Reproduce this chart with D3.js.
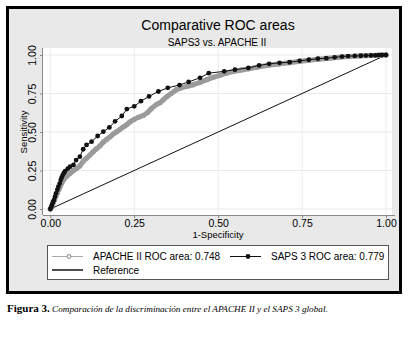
<!DOCTYPE html>
<html>
<head>
<meta charset="utf-8">
<script src="https://cdn.jsdelivr.net/npm/d3@7"></script>
<style>
	body { margin: 0; background: #fff; }
	svg { display: block; }
</style>
</head>
<body>
<svg id="chart" width="408" height="338"></svg>
<script>

// values
let saps_fpr = [0, 0.003, 0.005, 0.008, 0.011, 0.014, 0.017, 0.021, 0.024, 0.028, 0.031, 0.034, 0.037, 0.04, 0.044, 0.052, 0.059, 0.069, 0.077, 0.088, 0.098, 0.108, 0.123, 0.141, 0.158, 0.176, 0.193, 0.213, 0.228, 0.25, 0.27, 0.294, 0.322, 0.35, 0.385, 0.412, 0.446, 0.472, 0.518, 0.55, 0.59, 0.622, 0.652, 0.683, 0.713, 0.743, 0.77, 0.797, 0.822, 0.847, 0.869, 0.887, 0.907, 0.925, 0.94, 0.955, 0.968, 0.978, 0.988, 1];
let saps_tpr = [0, 0.012, 0.028, 0.045, 0.058, 0.08, 0.102, 0.125, 0.145, 0.165, 0.188, 0.205, 0.22, 0.232, 0.245, 0.262, 0.275, 0.286, 0.318, 0.34, 0.388, 0.416, 0.437, 0.474, 0.502, 0.53, 0.569, 0.604, 0.649, 0.667, 0.7, 0.731, 0.763, 0.787, 0.805, 0.825, 0.852, 0.882, 0.894, 0.905, 0.916, 0.932, 0.943, 0.949, 0.953, 0.962, 0.969, 0.976, 0.979, 0.985, 0.99, 0.993, 0.994, 0.995, 0.996, 0.997, 0.998, 0.999, 1, 1];

let apache_fpr = [0, 0.003, 0.006, 0.009, 0.012, 0.016, 0.02, 0.025, 0.029, 0.034, 0.04, 0.044, 0.05, 0.059, 0.068, 0.079, 0.088, 0.098, 0.108, 0.118, 0.128, 0.138, 0.148, 0.158, 0.168, 0.178, 0.188, 0.198, 0.208, 0.217, 0.228, 0.237, 0.25, 0.262, 0.277, 0.29, 0.3, 0.317, 0.327, 0.337, 0.347, 0.36, 0.376, 0.39, 0.41, 0.426, 0.446, 0.466, 0.485, 0.505, 0.525, 0.545, 0.57, 0.59, 0.615, 0.645, 0.68, 0.71, 0.74, 0.77, 0.8, 0.83, 0.86, 0.89, 0.92, 0.95, 0.98, 1];
let apache_tpr = [0, 0.012, 0.025, 0.04, 0.058, 0.08, 0.1, 0.125, 0.145, 0.168, 0.19, 0.205, 0.215, 0.232, 0.248, 0.264, 0.28, 0.31, 0.33, 0.35, 0.372, 0.392, 0.41, 0.435, 0.452, 0.469, 0.488, 0.502, 0.518, 0.532, 0.548, 0.565, 0.582, 0.595, 0.607, 0.627, 0.65, 0.68, 0.69, 0.71, 0.729, 0.75, 0.775, 0.787, 0.798, 0.807, 0.822, 0.84, 0.855, 0.868, 0.882, 0.893, 0.903, 0.91, 0.92, 0.932, 0.942, 0.95, 0.958, 0.966, 0.973, 0.979, 0.985, 0.99, 0.994, 0.997, 0.999, 1];

let reference_line = [0, 1];
let tick_values = [0, 0.25, 0.5, 0.75, 1];

let title = 'Comparative ROC areas';
let subtitle = 'SAPS3 vs. APACHE II';
let x_title = '1-Specificity';
let y_title = 'Sensitivity';
let legend_labels = ['APACHE II ROC area: 0.748', 'SAPS 3 ROC area: 0.779', 'Reference'];

let svg = d3.select('#chart');
let font = '"Liberation Sans", Arial, sans-serif';

// outer frame and graph region
svg.append('rect')
	.attr('x', 7.5).attr('y', 7.5).attr('width', 393).attr('height', 285)
	.attr('fill', '#e9e9e9')
	.attr('stroke', '#000').attr('stroke-width', 3);

// plot region
let plot = {left: 43, right: 392, top: 48, bottom: 215};
svg.append('rect')
	.attr('x', plot.left).attr('y', plot.top)
	.attr('width', plot.right - plot.left).attr('height', plot.bottom - plot.top)
	.attr('fill', '#fff');

let x = d3.scaleLinear().domain([0, 1]).range([50.3, 386]);
let y = d3.scaleLinear().domain([0, 1]).range([209, 55]);

// grid
svg.append('g').selectAll('line.gx').data(tick_values).join('line')
	.attr('x1', d => x(d)).attr('x2', d => x(d))
	.attr('y1', plot.top).attr('y2', plot.bottom)
	.attr('stroke', '#eaeaea').attr('stroke-width', 1);
svg.append('g').selectAll('line.gy').data(tick_values).join('line')
	.attr('x1', plot.left).attr('x2', plot.right)
	.attr('y1', d => y(d)).attr('y2', d => y(d))
	.attr('stroke', '#eaeaea').attr('stroke-width', 1);

// axes
let xAxis = d3.axisBottom(x).tickValues(tick_values).tickFormat(d3.format('.2f')).tickSize(3).tickPadding(2);
let gx = svg.append('g').attr('transform', `translate(0,${plot.bottom})`).call(xAxis);
gx.select('.domain').attr('d', `M${plot.left},0.5H${plot.right + 3}`).attr('stroke', '#888');
gx.selectAll('.tick line').attr('stroke', '#888');
gx.selectAll('.tick text').attr('fill', '#000').attr('font-family', font).attr('font-size', 10.5);

let yAxis = d3.axisLeft(y).tickValues(tick_values).tickFormat(d3.format('.2f')).tickSize(3).tickPadding(2);
let gy = svg.append('g').attr('transform', `translate(${plot.left},0)`).call(yAxis);
gy.select('.domain').attr('d', `M-0.5,${plot.top}V${plot.bottom}`).attr('stroke', '#888');
gy.selectAll('.tick line').attr('stroke', '#888');
gy.selectAll('.tick text')
	.attr('fill', '#000').attr('font-family', font).attr('font-size', 10.5)
	.attr('x', null).attr('dy', null)
	.attr('text-anchor', 'middle')
	.attr('transform', 'translate(-7,0) rotate(-90)');

// titles
svg.append('text').attr('x', 218).attr('y', 30).attr('text-anchor', 'middle')
	.attr('font-family', font).attr('font-size', 14).text(title);
svg.append('text').attr('x', 217).attr('y', 46).attr('text-anchor', 'middle')
	.attr('font-family', font).attr('font-size', 10).text(subtitle);
svg.append('text').attr('x', 218).attr('y', 238).attr('text-anchor', 'middle')
	.attr('font-family', font).attr('font-size', 9.5).text(x_title);
svg.append('text').attr('transform', `translate(27,${y(0.5)}) rotate(-90)`).attr('text-anchor', 'middle')
	.attr('font-family', font).attr('font-size', 9.5).text(y_title);

// reference line
let line = d3.line().x(d => x(d[0])).y(d => y(d[1]));
svg.append('path')
	.attr('d', line(reference_line.map(v => [v, v])))
	.attr('fill', 'none').attr('stroke', '#111').attr('stroke-width', 1);

// APACHE II (gray, dense hollow markers)
let apache = apache_fpr.map((v, i) => [v, apache_tpr[i]]);
svg.append('path')
	.attr('d', line(apache))
	.attr('fill', 'none').attr('stroke', '#9b9b9b').attr('stroke-width', 5)
	.attr('stroke-linejoin', 'round').attr('stroke-linecap', 'round');
svg.append('g').selectAll('circle').data(apache).join('circle')
	.attr('cx', d => x(d[0])).attr('cy', d => y(d[1])).attr('r', 2)
	.attr('fill', 'none').attr('stroke', '#9b9b9b').attr('stroke-width', 1.2);

// SAPS 3 (black dots)
let saps = saps_fpr.map((v, i) => [v, saps_tpr[i]]);
svg.append('path')
	.attr('d', line(saps))
	.attr('fill', 'none').attr('stroke', '#111').attr('stroke-width', 1);
svg.append('g').selectAll('circle').data(saps).join('circle')
	.attr('cx', d => x(d[0])).attr('cy', d => y(d[1])).attr('r', 2.4)
	.attr('fill', '#111');

// legend
let legend = svg.append('g');
legend.append('rect')
	.attr('x', 47.5).attr('y', 245.5).attr('width', 341).attr('height', 34)
	.attr('fill', '#fff').attr('stroke', '#555').attr('stroke-width', 1);

let legend_items = [
	{x0: 52, row: 0, stroke: '#aaa', width: 1, marker: 'hollow'},
	{x0: 230, row: 0, stroke: '#111', width: 1, marker: 'solid'},
	{x0: 52, row: 1, stroke: '#111', width: 1.5, marker: null}
];
legend_items.forEach((item, i) => {
	let cy = 256.5 + item.row * 13.5;
	legend.append('line')
		.attr('x1', item.x0).attr('x2', item.x0 + 31).attr('y1', cy).attr('y2', cy)
		.attr('stroke', item.stroke).attr('stroke-width', item.width);
	if (item.marker == 'hollow') {
		legend.append('circle').attr('cx', item.x0 + 17).attr('cy', cy).attr('r', 1.8)
			.attr('fill', '#fff').attr('stroke', '#999').attr('stroke-width', 1.2);
	} else if (item.marker == 'solid') {
		legend.append('circle').attr('cx', item.x0 + 18).attr('cy', cy).attr('r', 2.4).attr('fill', '#111');
	}
	legend.append('text')
		.attr('x', item.x0 + 41).attr('y', cy + 3.8)
		.attr('font-family', font).attr('font-size', 10)
		.text(legend_labels[i]);
});

// caption below the frame
let caption = svg.append('text').attr('x', 7).attr('y', 312)
	.attr('font-family', '"Liberation Serif", "Times New Roman", serif');
caption.append('tspan').attr('font-weight', 'bold').attr('font-size', 11).text('Figura 3.');
caption.append('tspan').attr('font-style', 'italic').attr('font-size', 9.2).text(' Comparación de la discriminación entre el APACHE II y el SAPS 3 global.');

</script>
</body>
</html>
